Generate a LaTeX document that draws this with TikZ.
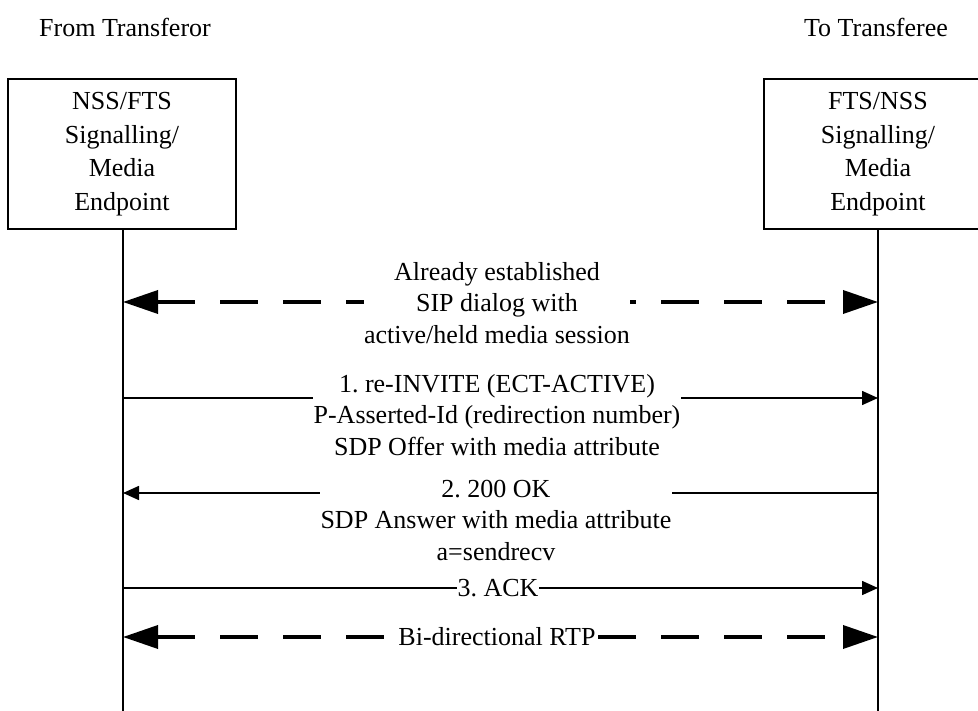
\documentclass[tikz,border=0pt]{standalone}
\usepackage{fontspec}
\setmainfont{Liberation Serif}
\usetikzlibrary{arrows.meta, positioning}
\frenchspacing

\tikzset{
  party/.style={draw, line width=1.6pt, minimum width=228pt, minimum height=150pt, align=center, inner sep=0pt,
    font=\fontsize{26}{33.5}\selectfont},
  msgtext/.style={align=center, fill=white, inner sep=0.5pt},
  lifeline/.style={line width=1.6pt},
  sig/.style={line width=1.6pt, -{Triangle[length=16pt,width=14pt]}},
  media/.style={line width=3.6pt, dash pattern=on 38pt off 25pt,
    {Triangle[length=35pt,width=23pt]}-{Triangle[length=35pt,width=23pt]}},
}

\begin{document}
\begin{tikzpicture}[x=1pt,y=-1pt,font=\fontsize{26}{31.5}\selectfont]
\useasboundingbox (0,0) rectangle (978,711);
% parties
\node[party] (tor) at (122,154) {NSS/FTS\\Signalling/\\Media\\Endpoint};
\node[party] (tee) at (878,154) {FTS/NSS\\Signalling/\\Media\\Endpoint};
\node (torHead) at (125,27) {From Transferor};
\node (teeHead) at (876,27) {To Transferee};
\coordinate (torBot) at (123,711);
\coordinate (teeBot) at (878,711);
\draw[lifeline] (tor.south -| torBot) -- (torBot);
\draw[lifeline] (tee.south -| teeBot) -- (teeBot);
% message rows on the lifelines
\coordinate (torDlg) at (123,302);
\coordinate (teeDlg) at (878,302);
\coordinate (torInv) at (123,398);
\coordinate (teeInv) at (878,398);
\coordinate (torOk) at (123,493);
\coordinate (teeOk) at (878,493);
\coordinate (torAck) at (123,588);
\coordinate (teeAck) at (878,588);
\coordinate (torRtp) at (123,637);
\coordinate (teeRtp) at (878,637);
% connectors
\draw[media] (torDlg) -- (teeDlg);
\draw[sig] (torInv) -- (teeInv);
\draw[sig] (teeOk) -- (torOk);
\draw[sig] (torAck) -- (teeAck);
\draw[media] (torRtp) -- (teeRtp);
% labels
\node[msgtext] (dlg) at (497,303) {Already established\\SIP dialog with\\active/held media session};
\node[msgtext] (inv) at (497,415) {1. re-INVITE (ECT-ACTIVE)\\P-Asserted-Id (redirection number)\\SDP Offer with media attribute};
\node[msgtext] (ok) at (496,520) {2. 200 OK\\SDP Answer with media attribute\\a=sendrecv};
\node[msgtext] (ack) at (498,588) {3. ACK};
\node[msgtext] (rtp) at (497,637) {Bi-directional RTP};
\end{tikzpicture}
\end{document}
